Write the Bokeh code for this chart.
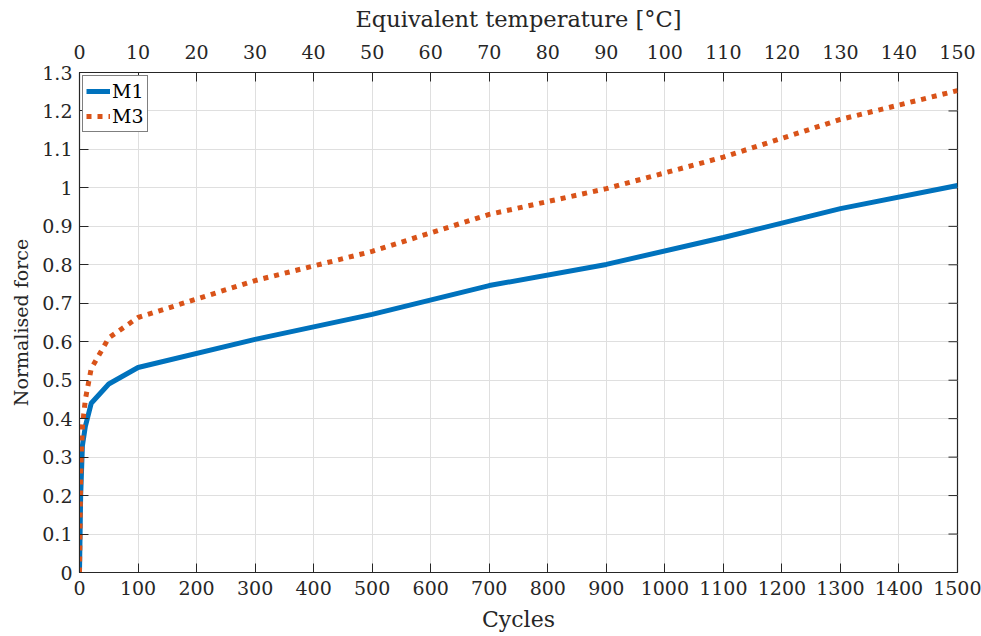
from bokeh.plotting import figure
from bokeh.models import Range1d, LinearAxis, FixedTicker, Legend, LegendItem
from bokeh.embed import file_html
from bokeh.resources import INLINE

cycles = [0, 2, 5, 10, 20, 50, 100, 300, 500, 700, 900, 1100, 1300, 1500]
m1 = [0, 0.20, 0.33, 0.38, 0.44, 0.49, 0.533, 0.606, 0.671, 0.746, 0.801, 0.871, 0.946, 1.006]
m3 = [0, 0.25, 0.38, 0.45, 0.53, 0.61, 0.663, 0.759, 0.835, 0.931, 0.998, 1.08, 1.178, 1.253]

x_ticks = list(range(0, 1501, 100))
y_ticks = [round(i * 0.1, 1) for i in range(0, 14)]
temp_ticks = list(range(0, 151, 10))

FONT = "DejaVu Serif"
FS = "19px"
DARK = "#262626"

p = figure(width=981, height=636, output_backend="svg", toolbar_location=None,
           x_range=Range1d(0, 1500), y_range=Range1d(0, 1.3),
           min_border_left=79, min_border_right=24, min_border_top=72, min_border_bottom=64)
p.extra_x_ranges = {"temp": Range1d(0, 150)}

p.outline_line_color = DARK
p.outline_line_width = 1.2
p.outline_line_alpha = 1.0


def style(ax):
    ax.major_tick_in = 9
    ax.major_tick_out = 0
    ax.minor_tick_in = 0
    ax.minor_tick_out = 0
    ax.axis_line_color = DARK
    ax.major_tick_line_color = DARK
    ax.major_label_text_font = FONT
    ax.major_label_text_font_size = FS
    ax.major_label_text_color = DARK
    ax.axis_label_text_font = FONT
    ax.axis_label_text_font_size = FS
    ax.axis_label_text_font_style = "normal"
    ax.axis_label_text_color = DARK


style(p.xaxis[0])
style(p.yaxis[0])

p.xaxis[0].ticker = FixedTicker(ticks=x_ticks)
p.yaxis[0].ticker = FixedTicker(ticks=y_ticks)
p.yaxis[0].major_label_overrides = {t: ("0" if t == 0 else ("1" if t == 1.0 else f"{t:g}")) for t in y_ticks}
p.xaxis[0].axis_label = "Cycles"
p.yaxis[0].axis_label = "Normalised force"
p.xaxis[0].axis_label_text_font_size = "22px"
p.xaxis[0].major_label_standoff = 8
p.xaxis[0].axis_label_standoff = 9
p.yaxis[0].major_label_standoff = 7
p.yaxis[0].axis_label_standoff = 7

top = LinearAxis(x_range_name="temp", axis_label="Equivalent temperature [°C]",
                 ticker=FixedTicker(ticks=temp_ticks))
style(top)
top.axis_label_text_font_size = "22.5px"
top.major_label_standoff = 14
top.axis_label_standoff = 10
p.add_layout(top, "above")

# inward tick marks on the right edge of the box
p.segment(x0=[1500] * len(y_ticks), y0=y_ticks, x1=[1484.6] * len(y_ticks), y1=y_ticks,
          line_color=DARK, line_width=1)

p.xgrid.ticker = FixedTicker(ticks=x_ticks)
p.ygrid.ticker = FixedTicker(ticks=y_ticks)
p.grid.grid_line_color = "#dfdfdf"
p.grid.grid_line_width = 1

r1 = p.line(cycles, m1, line_color="#0072BD", line_width=5)
r3 = p.line(cycles, m3, line_color="#D95319", line_width=5, line_dash="5 6")

legend = Legend(items=[LegendItem(label="M1", renderers=[r1]),
                       LegendItem(label="M3", renderers=[r3])],
                location="top_left")
legend.label_text_font = FONT
legend.label_text_font_size = FS
legend.label_text_color = "#000000"
legend.border_line_color = "#000000"
legend.border_line_width = 1
legend.margin = 3
legend.padding = 3
legend.spacing = 1
legend.glyph_width = 24
legend.glyph_height = 24
legend.label_height = 24
legend.label_standoff = 2
legend.background_fill_color = "white"
legend.background_fill_alpha = 1.0
p.add_layout(legend)

open("out.html", "w").write(file_html(p, INLINE))
